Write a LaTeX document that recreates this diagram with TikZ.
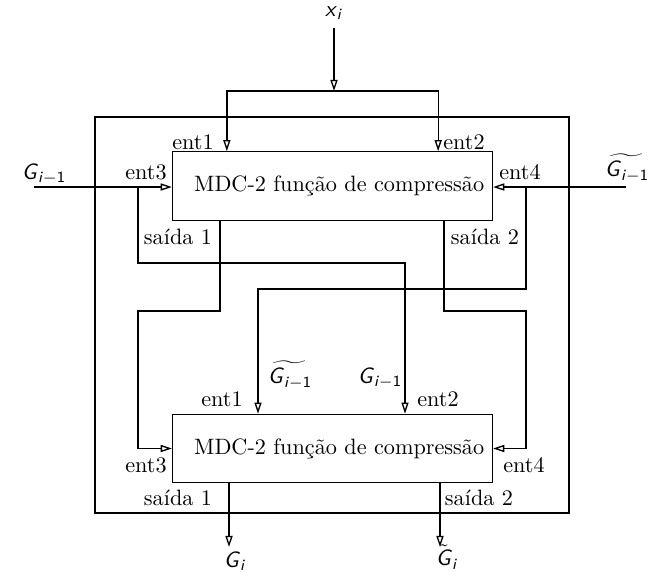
\documentclass[tikz,border=0pt]{standalone}
\usepackage{amsmath}
\usepackage{tikz}
\usetikzlibrary{arrows.meta, calc, positioning}
\newcommand{\sfit}[1]{\textsf{\textit{#1}}}
\newcommand{\Gprev}{\sfit{G}_{\sfit{i}-\textsf{1}}}

\begin{document}
\begin{tikzpicture}[>={Triangle[open, length=5pt, width=3.2pt]},
  x=0.45pt, y=-0.45pt, line width=0.6pt,
  mdcbox/.style={draw, minimum width=144pt, minimum height=30.8pt, inner sep=0pt},
  port/.style={inner sep=0pt}]
  \useasboundingbox (0,0) rectangle (648,571);

  % Outer frame
  \draw (95,117) rectangle (569,513);

  % The two compression blocks
  \node[mdcbox] (T) at (332.5,186) {\hspace{6pt}MDC-2 função de compressão};
  \node[mdcbox] (B) at (332.5,448.5) {\hspace{6pt}MDC-2 função de compressão};

  % Port labels
  \node[port] (t1) at (193,142) {ent1};
  \node[port] (t2) at (464,142) {ent2};
  \node[port] (t3) at (146,172) {ent3};
  \node[port] (t4) at (520,172) {ent4};
  \node[port] (ts1) at (178,237) {saída 1};
  \node[port] (ts2) at (485,237) {saída 2};
  \node[port] (u1) at (222,399) {ent1};
  \node[port] (u2) at (438,399) {ent2};
  \node[port] (u3) at (146,465) {ent3};
  \node[port] (u4) at (524,465) {ent4};
  \node[port] (us1) at (178,498) {saída 1};
  \node[port] (us2) at (479,498) {saída 2};

  % Message block x_i into ent1 and ent2
  \node (xi) at (334,13) {$\sfit{x}_{\sfit{i}}$};
  \coordinate (split) at (334,91);
  \draw[->] (xi) -- (split);
  \draw[->] (split) -| ($(T.north west)+(55,0)$);
  \draw[->] (split) -| ($(T.north east)+(-55,0)$);

  % Chaining values in
  \node (gl) at (44,174) {$\Gprev$};
  \node (gr) at (627,168) {$\widetilde{\Gprev}$};
  \coordinate (gin) at (34,187);
  \coordinate (gtin) at (626,187);
  \draw[->] (gin) -- (gin -| T.west);
  \draw[->] (gtin) -- (gtin -| T.east);

  % Crossing to the second block
  \coordinate (b3) at (138,187);
  \coordinate (j3) at (405,263);
  \draw[->] (b3) |- (j3) -- (j3 |- B.north);
  \coordinate (b4) at (526,187);
  \coordinate (j4) at (258,289);
  \draw[->] (b4) |- (j4) -- (j4 |- B.north);
  \node[port] (mg) at (380,378) {$\Gprev$};
  \node[port] (mgt) at (290,375) {$\widetilde{\Gprev}$};

  \coordinate (o1) at (220,311);
  \coordinate (o1l) at (138,311);
  \draw[->] (o1 |- T.south) -- (o1) -- (o1l) |- (B.west);
  \coordinate (o2) at (444,311);
  \coordinate (o2r) at (526,311);
  \draw[->] (o2 |- T.south) -- (o2) -- (o2r) |- (B.east);

  % Outputs
  \coordinate (q1) at (229,547);
  \coordinate (q2) at (440,547);
  \draw[->] (q1 |- B.south) -- (q1);
  \draw[->] (q2 |- B.south) -- (q2);
  \node[port] (gi) at (235,561) {$\sfit{G}_{\sfit{i}}$};
  \node[port] (gti) at (447,557) {$\tilde{\sfit{G}}_{\sfit{i}}$};
\end{tikzpicture}
\end{document}
